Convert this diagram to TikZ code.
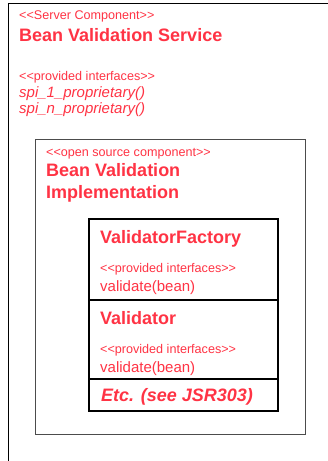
\documentclass[tikz,border=0pt]{standalone}
\usepackage{fontspec}
\setmainfont{Liberation Sans}
\usetikzlibrary{positioning}
\definecolor{umlred}{RGB}{255,51,68}
\newcommand{\umlst}[1]{<\kern0pt<#1>\kern0pt>}

\begin{document}
\begin{tikzpicture}[x=1pt, y=-1pt,
    every node/.style={anchor=base west, inner sep=0pt, text=umlred},
    stereo/.style={font=\fontsize{12.6}{14}\selectfont},
    title/.style={font=\fontsize{18}{21}\selectfont\bfseries},
    oper/.style={font=\fontsize{15}{17}\selectfont}]
    \useasboundingbox (0,0) rectangle (328,461);
    \fill[white] (0,0) rectangle (328,461);

    % boxes
    \draw[line width=1.3pt] (8.5,3.5) rectangle (345,480);
    \draw[line width=1pt, black!70] (35,139) rectangle (305,434);
    \draw[line width=1.2pt] (89,219) rectangle (278,411);
    \draw[line width=2pt] (89,300) -- (278,300);
    \draw[line width=2pt] (89,379) -- (278,379);

    % server component
    \node[stereo] (srvst) at (19,19) {\umlst{Server Component}};
    \node[title] (srvname) at (19,41) {Bean Validation Service};
    \node[stereo] (srvif) at (19,80) {\umlst{provided interfaces}};
    \node[oper, font=\fontsize{15}{17}\selectfont\itshape] (spione) at (19,97) {spi\_1\_proprietary()};
    \node[oper, font=\fontsize{15}{17}\selectfont\itshape] (spin) at (19,113) {spi\_n\_proprietary()};

    % open source component
    \node[stereo] (implst) at (46,156) {\umlst{open source component}};
    \node[title] (implname) at (46,176) {Bean Validation};
    \node[title] (implname2) at (46,198) {Implementation};

    % classes
    \node[title] (factory) at (100,243) {ValidatorFactory};
    \node[stereo] (factoryif) at (100,272) {\umlst{provided interfaces}};
    \node[oper] (factoryop) at (100,291) {validate(bean)};
    \node[title] (validator) at (100,324) {Validator};
    \node[stereo] (validatorif) at (100,353) {\umlst{provided interfaces}};
    \node[oper] (validatorop) at (100,372) {validate(bean)};
    \node[title, font=\fontsize{18}{21}\selectfont\bfseries\itshape] (etc) at (101,401) {Etc. (see JSR303)};
\end{tikzpicture}
\end{document}
